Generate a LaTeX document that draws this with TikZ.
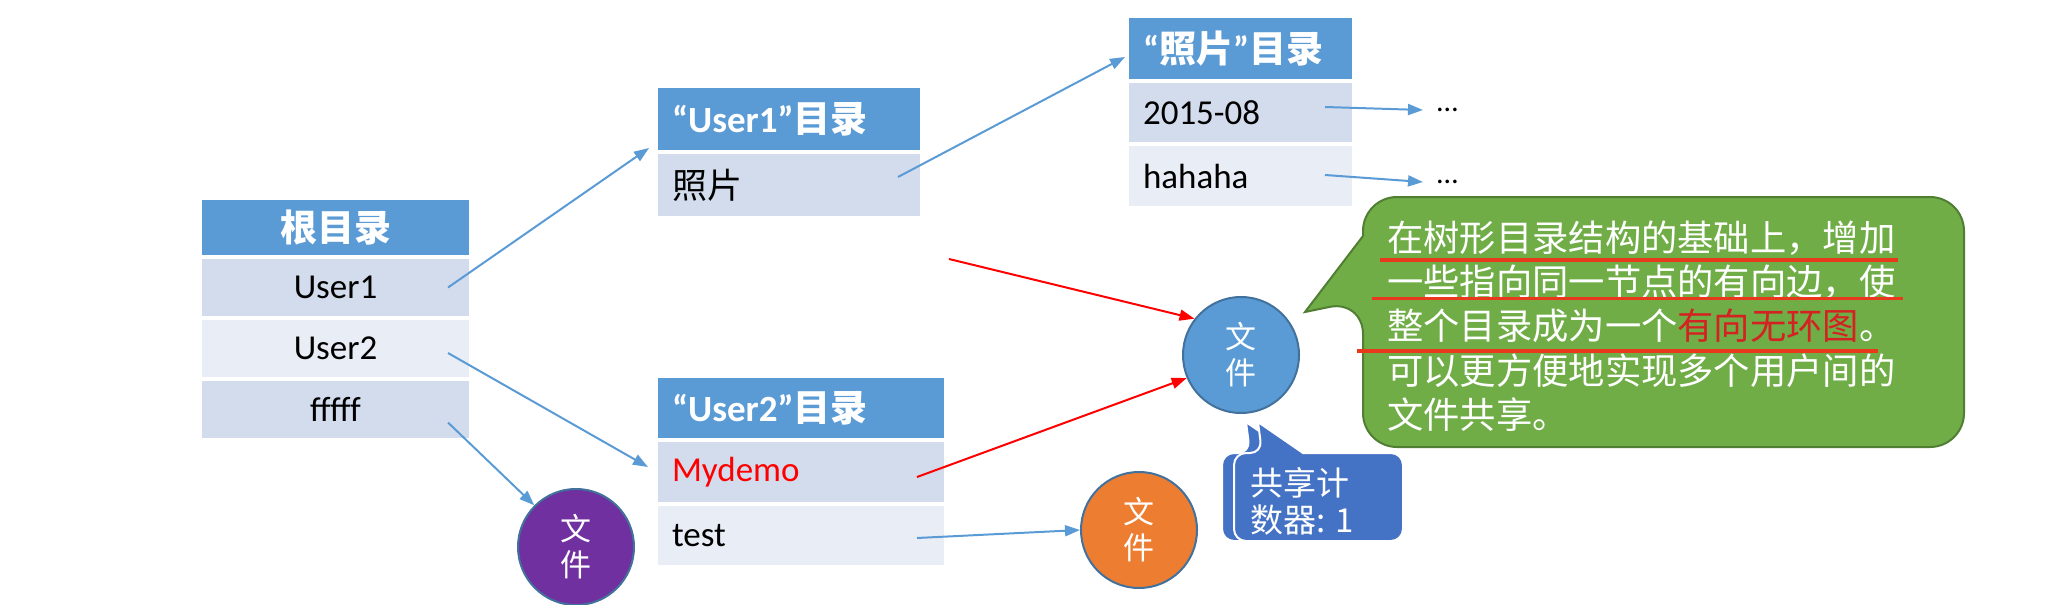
\documentclass[tikz,border=0pt]{standalone}
\usepackage{fontspec}
\setmainfont{Carlito}
\newfontfamily\zhfont{Noto Sans CJK SC}
\usetikzlibrary{arrows.meta}
\definecolor{hdr}{HTML}{5B9BD5}
\definecolor{rowA}{HTML}{D2DCEC}
\definecolor{rowB}{HTML}{E9EEF6}
\definecolor{arrblue}{HTML}{5B9BD5}
\definecolor{circblue}{HTML}{5B9BD5}
\definecolor{circedge}{HTML}{41719C}
\definecolor{circorange}{HTML}{ED7D31}
\definecolor{circpurple}{HTML}{7030A0}
\definecolor{callgreen}{HTML}{70AD47}
\definecolor{callgreenedge}{HTML}{507E32}
\definecolor{callblue}{HTML}{4472C4}
\definecolor{ulred}{HTML}{E8391D}
\definecolor{txtred}{HTML}{D42121}
\definecolor{myred}{HTML}{FF0000}
\begin{document}
\begin{tikzpicture}[x=1pt,y=-1pt,
 cell/.style={rectangle, anchor=north west, draw=white, line width=4pt, outer sep=0pt, inner xsep=16pt, inner ysep=0pt},
 hd/.style={cell, fill=hdr, text=white, font=\fontsize{37}{42}\selectfont\bfseries},
 ra/.style={cell, fill=rowA, font=\fontsize{35}{40}\selectfont},
 rb/.style={cell, fill=rowB, font=\fontsize{35}{40}\selectfont},
 file/.style={circle, minimum size=116pt, inner sep=0pt, draw=circedge, line width=2pt, text=white, align=center, font=\zhfont\fontsize{31}{36}\selectfont},
 barrow/.style={draw=arrblue, line width=2pt, -{Triangle[length=15pt,width=11pt]}},
 rarrow/.style={draw=myred, line width=2pt, -{Triangle[length=15pt,width=11pt]}},
 gtext/.style={anchor=west, inner sep=0pt, text=white, font=\zhfont\fontsize{36.3}{40}\selectfont},
 dots/.style={anchor=west, inner xsep=14pt, inner ysep=0pt, font=\fontsize{30}{30}\selectfont},
 ul/.style={draw=ulred, line width=3.5pt}
]
\useasboundingbox (0,0) rectangle (2048,605);

% root table
\node[hd, text width=239pt, align=center, minimum height=59pt] (rh) at (200,198) {\zhfont\bfseries 根目录};
\node[ra, text width=239pt, align=center, minimum height=61pt] (r1) at (200,257) {User1};
\node[rb, text width=239pt, align=center, minimum height=61pt] (r2) at (200,318) {User2};
\node[ra, text width=239pt, align=center, minimum height=61pt] (r3) at (200,379) {fffff};

% User1 table
\node[hd, text width=234pt, align=left, minimum height=66pt] (u1h) at (656,86) {“User1”{\zhfont\bfseries 目录}};
\node[ra, text width=234pt, align=left, minimum height=66pt] (pr) at (656,152) {\zhfont 照片};

% photo table
\node[hd, text width=195pt, align=left, minimum height=65pt] (ph) at (1127,16) {“{\zhfont\bfseries 照片}”{\zhfont\bfseries 目录}};
\node[ra, text width=195pt, align=left, minimum height=63pt] (p1) at (1127,81) {2015-08};
\node[rb, text width=195pt, align=left, minimum height=64pt] (p2) at (1127,144) {hahaha};

% User2 table
\node[hd, text width=258pt, align=left, minimum height=64pt] (u2h) at (656,376) {“User2”{\zhfont\bfseries 目录}};
\node[ra, text width=258pt, align=left, minimum height=64pt, text=myred] (m) at (656,440) {Mydemo};
\node[rb, text width=258pt, align=left, minimum height=63pt] (t) at (656,504) {test};

% dots
\node[dots] (d1) at (1423,110) {…};
\node[dots] (d2) at (1423,182) {…};

% files
\node[file, fill=circpurple] (fp) at (576,547) {文\\件};
\node[file, fill=circblue] (fb) at (1241,355) {文\\件};
\node[file, fill=circorange] (fo) at (1139,530) {文\\件};

% green callout
\path[fill=callgreen, draw=callgreenedge, line width=2pt]
  (1363,236) [rounded corners=34pt] -- (1363,197) -- (1964,197) -- (1964,447) -- (1363,447) -- (1363,300) [sharp corners] -- (1305,312) -- cycle;
\node[gtext] (g1) at (1387,238) {在树形目录结构的基础上，增加};
\node[gtext] (g2) at (1387,282) {一些指向同一节点的有向边，使};
\node[gtext] (g3) at (1387,326) {整个目录成为一个{\color{txtred}有向无环图}。};
\node[gtext] (g4) at (1387,371) {可以更方便地实现多个用户间的};
\node[gtext] (g5) at (1387,415) {文件共享。};
\draw[ul] (1380,260) -- (1898,260);
\draw[ul] (1372,298.5) -- (1903,298.5);
\draw[ul] (1357,351) -- (1878,351);

% blue callout (shadow copy + front)
\begin{scope}[shift={(-12,0)}]
\path[fill=callblue, draw=white, line width=2pt]
  (1303,453) [rounded corners=12pt] -- (1403,453) -- (1403,541) -- (1234,541) -- (1234,453) -- (1262,453) [sharp corners] -- (1258,422) -- cycle;
\end{scope}
\path[fill=callblue, draw=white, line width=2pt]
  (1303,453) [rounded corners=12pt] -- (1403,453) -- (1403,541) -- (1234,541) -- (1234,453) -- (1262,453) [sharp corners] -- (1258,422) -- cycle;
\node[anchor=west, inner sep=0pt, align=left, text=white, font=\zhfont\fontsize{33}{37}\selectfont] (cnt) at (1250,501) {共享计\\数器: 1};

% connectors
\coordinate (rs) at (949,259);
\draw[barrow] ([xshift=-23pt]r1.east) -- ([xshift=-7pt,yshift=4pt]u1h.south west);
\draw[barrow] ([xshift=-23pt,yshift=-4.5pt]r2.east) -- ([xshift=-8pt,yshift=5pt]m.west);
\draw[barrow] ([xshift=-23pt,yshift=-13pt]r3.east) -- (fp.135);
\draw[barrow] ([xshift=-24pt,yshift=8pt]pr.east) -- ([xshift=-2pt,yshift=-8.5pt]ph.west);
\draw[barrow] ([xshift=-29pt,yshift=5.5pt]p1.east) -- (d1.west);
\draw[barrow] ([xshift=-29pt,yshift=1pt]p2.east) -- (d2.west);
\draw[barrow] ([xshift=-29pt,yshift=-2.5pt]t.east) -- (fo.west);
\draw[rarrow] ([xshift=-29pt,yshift=-5pt]m.east) -- (fb.203);
\draw[rarrow] (rs) -- (fb.142);
\end{tikzpicture}
\end{document}
